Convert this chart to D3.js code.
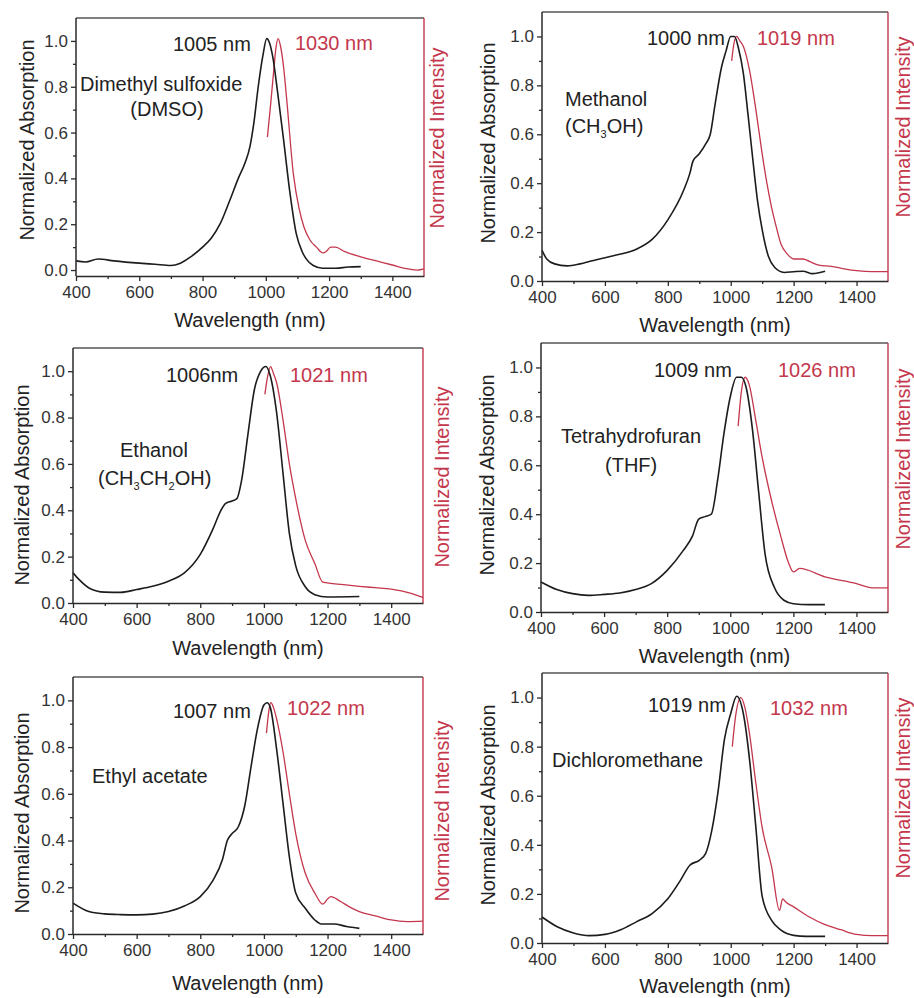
<!DOCTYPE html>
<html>
<head>
<meta charset="utf-8">
<script src="https://cdn.jsdelivr.net/npm/d3@7/dist/d3.min.js"></script>
<style>
  body { margin: 0; background: #fff; }
  svg text { font-family: "Liberation Sans", Arial, Helvetica, sans-serif; }
</style>
</head>
<body>
<svg id="fig" width="914" height="998"></svg>
<script>
// ---- data ----
var xTicks  = [400, 600, 800, 1000, 1200, 1400],
    xMinor  = [500, 700, 900, 1100, 1300],
    yTicks  = [0, 0.2, 0.4, 0.6, 0.8, 1.0],
    yMinor  = [0.1, 0.3, 0.5, 0.7, 0.9];

var absPeaks = ["1005 nm", "1000 nm", "1006nm", "1009 nm", "1007 nm", "1019 nm"];
var emPeaks  = ["1030 nm", "1019 nm", "1021 nm", "1026 nm", "1022 nm", "1032 nm"];

// solvent labels, one entry per text line; [text, subscript, text, subscript, ...]
var solventNames = [
  [["Dimethyl sulfoxide"], ["(DMSO)"]],
  [["Methanol"], ["(CH", "3", "OH)"]],
  [["Ethanol"], ["(CH", "3", "CH", "2", "OH)"]],
  [["Tetrahydrofuran"], ["(THF)"]],
  [["Ethyl acetate"]],
  [["Dichloromethane"]]
];

var dmsoAbs = [[400,0.04],[430,0.035],[470,0.048],[520,0.04],[600,0.03],[650,0.025],[700,0.02],[730,0.03],
  [760,0.055],[800,0.10],[828,0.14],[855,0.20],[885,0.30],[913,0.40],[935,0.47],[950,0.54],[962,0.64],
  [976,0.80],[990,0.93],[1003,1.01],[1012,0.99],[1022,0.93],[1036,0.79],[1056,0.57],[1076,0.34],[1096,0.16],
  [1115,0.08],[1127,0.05],[1150,0.02],[1180,0.008],[1220,0.008],[1260,0.013],[1300,0.015]];
var dmsoEm = [[1005,0.58],[1015,0.72],[1025,0.87],[1032,0.97],[1039,1.01],[1046,0.98],[1055,0.90],
  [1066,0.745],[1087,0.42],[1105,0.27],[1120,0.19],[1140,0.13],[1160,0.10],[1180,0.075],[1190,0.08],
  [1205,0.10],[1220,0.10],[1250,0.08],[1300,0.058],[1350,0.04],[1400,0.022],[1450,0.005],[1480,0.0],[1500,0.005]];

var methanolAbs = [[400,0.125],[415,0.09],[440,0.07],[480,0.062],[520,0.07],[550,0.08],[600,0.095],
  [650,0.11],[700,0.13],[750,0.17],[800,0.25],[850,0.37],[870,0.44],[880,0.49],[900,0.52],[920,0.56],
  [935,0.60],[950,0.72],[970,0.87],[985,0.94],[1000,1.0],[1012,1.0],[1025,0.95],[1040,0.85],[1055,0.68],
  [1070,0.50],[1085,0.33],[1100,0.21],[1120,0.10],[1140,0.055],[1170,0.035],[1200,0.038],[1230,0.04],
  [1260,0.03],[1300,0.04]];
var methanolEm = [[1003,0.90],[1010,0.97],[1019,1.0],[1030,0.98],[1040,0.96],[1060,0.86],[1080,0.70],
  [1100,0.52],[1115,0.40],[1130,0.30],[1145,0.22],[1160,0.15],[1180,0.11],[1200,0.09],[1230,0.09],
  [1250,0.08],[1280,0.065],[1320,0.06],[1360,0.05],[1400,0.042],[1450,0.038],[1500,0.038]];

var ethanolAbs = [[400,0.13],[420,0.10],[450,0.065],[500,0.047],[550,0.046],[600,0.058],[650,0.072],
  [700,0.094],[750,0.13],[800,0.21],[840,0.32],[865,0.40],[880,0.43],[900,0.44],[915,0.45],[930,0.53],
  [950,0.73],[970,0.92],[990,1.0],[1006,1.02],[1020,0.98],[1040,0.82],[1060,0.56],[1080,0.30],
  [1100,0.16],[1130,0.07],[1160,0.036],[1200,0.026],[1300,0.028]];
var ethanolEm = [[1003,0.90],[1012,0.98],[1021,1.02],[1030,0.99],[1040,0.95],[1060,0.79],[1080,0.60],
  [1100,0.45],[1130,0.27],[1160,0.17],[1185,0.09],[1250,0.079],[1300,0.072],[1350,0.066],[1400,0.06],
  [1460,0.043],[1500,0.024]];

var thfAbs = [[400,0.123],[450,0.092],[500,0.075],[550,0.068],[600,0.072],[650,0.078],[700,0.092],
  [750,0.116],[800,0.17],[850,0.25],[880,0.31],[900,0.38],[920,0.39],[940,0.40],[960,0.54],[980,0.73],
  [1000,0.88],[1020,0.96],[1035,0.96],[1050,0.92],[1070,0.75],[1090,0.49],[1110,0.24],[1140,0.10],
  [1170,0.048],[1200,0.034],[1250,0.03],[1300,0.03]];
var thfEm = [[1025,0.76],[1035,0.90],[1047,0.96],[1060,0.93],[1080,0.79],[1100,0.64],[1130,0.46],
  [1160,0.31],[1185,0.20],[1200,0.164],[1220,0.178],[1300,0.144],[1400,0.116],[1450,0.099],[1500,0.099]];

var ethylAcetateAbs = [[400,0.132],[450,0.096],[500,0.086],[550,0.083],[600,0.082],[650,0.085],
  [700,0.096],[750,0.12],[800,0.16],[840,0.23],[870,0.32],[885,0.40],[900,0.43],[920,0.46],[940,0.55],
  [960,0.72],[980,0.88],[1000,0.98],[1010,0.99],[1020,0.97],[1040,0.79],[1060,0.56],[1080,0.33],
  [1100,0.175],[1130,0.11],[1160,0.06],[1180,0.043],[1220,0.043],[1260,0.032],[1300,0.024]];
var ethylAcetateEm = [[1008,0.86],[1015,0.95],[1022,0.99],[1030,0.97],[1040,0.92],[1060,0.78],
  [1080,0.60],[1100,0.43],[1130,0.26],[1160,0.175],[1185,0.128],[1200,0.15],[1210,0.16],[1240,0.14],
  [1270,0.115],[1300,0.096],[1350,0.078],[1400,0.06],[1450,0.053],[1500,0.055]];

var dcmAbs = [[400,0.106],[450,0.065],[500,0.041],[550,0.03],[600,0.035],[650,0.054],[700,0.086],
  [750,0.12],[800,0.18],[840,0.255],[870,0.317],[900,0.337],[920,0.364],[940,0.46],[960,0.62],[980,0.83],
  [1000,0.935],[1019,1.005],[1040,0.935],[1060,0.745],[1080,0.47],[1100,0.19],[1130,0.092],[1160,0.052],
  [1200,0.031],[1240,0.027],[1300,0.027]];
var dcmEm = [[1005,0.80],[1015,0.92],[1032,1.0],[1045,0.96],[1060,0.85],[1080,0.65],[1100,0.47],
  [1130,0.31],[1155,0.133],[1165,0.18],[1175,0.167],[1200,0.147],[1250,0.106],[1300,0.075],[1350,0.054],
  [1400,0.035],[1450,0.03],[1500,0.03]];

var absSeries = [dmsoAbs, methanolAbs, ethanolAbs, thfAbs, ethylAcetateAbs, dcmAbs];
var emSeries  = [dmsoEm, methanolEm, ethanolEm, thfEm, ethylAcetateEm, dcmEm];

// ---- layout (pixel frames of each panel and where its texts sit) ----
var frames = [
  {l: 76,  t: 18,  r: 424, b: 276, yMin: -0.026, yl: [27, 140],  yr: [437, 138], xt: 320,
   absAt: [173, 51], emAt: [295, 50], nameAt: [[80, 91, "start"], [167, 116, "middle"]]},
  {l: 542, t: 12,  r: 888, b: 281, yMin: 0, yl: [488, 143], yr: [903, 127], xt: 325,
   absAt: [647, 45], emAt: [757, 45], nameAt: [[565, 106, "start"], [565, 133, "start"]]},
  {l: 73,  t: 348, r: 423, b: 603, yMin: 0, yl: [22, 485],  yr: [442, 477], xt: 648,
   absAt: [166, 382], emAt: [290, 382], nameAt: [[120, 457, "start"], [98, 485, "start"]]},
  {l: 541, t: 343, r: 888, b: 612, yMin: 0, yl: [487, 475], yr: [903, 459], xt: 656,
   absAt: [654, 377], emAt: [778, 377], nameAt: [[561, 443, "start"], [605, 472, "start"]]},
  {l: 73,  t: 677, r: 423, b: 934, yMin: 0, yl: [22, 813],  yr: [442, 811], xt: 983,
   absAt: [173, 718], emAt: [287, 715], nameAt: [[92, 783, "start"]]},
  {l: 542, t: 673, r: 888, b: 943, yMin: 0, yl: [488, 805], yr: [903, 788], xt: 986,
   absAt: [648, 712], emAt: [770, 715], nameAt: [[552, 767, "start"]]}
];

var black = "#1c1c1c", red = "#c4374c", axisCol = "#2a2a2a", textCol = "#222";
var fontFam = '"Liberation Sans", Arial, sans-serif';

var svg = d3.select("#fig");

frames.forEach(function(f, i) {
  var x = d3.scaleLinear().domain([400, 1500]).range([f.l, f.r]);
  var y = d3.scaleLinear().domain([f.yMin, 1.1]).range([f.b, f.t]);

  var g = svg.append("g").attr("class", "panel");

  var line = d3.line()
      .x(function(d) { return x(d[0]); })
      .y(function(d) { return y(d[1]); })
      .curve(d3.curveMonotoneX);

  // emission (red) then absorption (black)
  g.append("path").datum(emSeries[i])
      .attr("d", line).attr("fill", "none")
      .attr("stroke", red).attr("stroke-width", 1.3);
  g.append("path").datum(absSeries[i])
      .attr("d", line).attr("fill", "none")
      .attr("stroke", black).attr("stroke-width", 1.6);

  // top frame and red right axis
  g.append("line")
      .attr("x1", f.l).attr("x2", f.r).attr("y1", f.t).attr("y2", f.t)
      .attr("stroke", "#555").attr("stroke-width", 1.5);
  g.append("line")
      .attr("x1", f.r).attr("x2", f.r).attr("y1", f.t).attr("y2", f.b)
      .attr("stroke", red).attr("stroke-width", 1.4);

  // x axis
  var xa = g.append("g")
      .attr("transform", "translate(0," + f.b + ")")
      .call(d3.axisBottom(x).tickValues(xTicks).tickSize(5).tickSizeOuter(0).tickPadding(5)
        .tickFormat(d3.format("d")));
  g.append("g")
      .attr("transform", "translate(0," + f.b + ")")
      .call(d3.axisBottom(x).tickValues(xMinor).tickSize(3).tickFormat(""))
      .select(".domain").remove();

  // y axis
  var ya = g.append("g")
      .attr("transform", "translate(" + f.l + ",0)")
      .call(d3.axisLeft(y).tickValues(yTicks).tickSize(5).tickSizeOuter(0).tickPadding(3)
        .tickFormat(d3.format(".1f")));
  g.append("g")
      .attr("transform", "translate(" + f.l + ",0)")
      .call(d3.axisLeft(y).tickValues(yMinor).tickSize(3).tickFormat(""))
      .select(".domain").remove();

  g.selectAll(".domain").attr("stroke", axisCol).attr("stroke-width", 1.5);
  g.selectAll(".tick line").attr("stroke", axisCol).attr("stroke-width", 1.3);
  [xa, ya].forEach(function(a) {
    a.attr("font-family", fontFam).attr("font-size", 17);
    a.selectAll("text").attr("fill", "#333");
  });
  // left axis domain spans the whole frame height
  ya.select(".domain").attr("d", "M0," + f.b + "V" + f.t);

  // axis titles
  g.append("text")
      .attr("transform", "translate(" + f.yl[0] + "," + f.yl[1] + ") rotate(-90)")
      .attr("text-anchor", "middle").attr("dy", "0.35em")
      .attr("font-size", 20).attr("fill", textCol)
      .text("Normalized Absorption");
  g.append("text")
      .attr("transform", "translate(" + f.yr[0] + "," + f.yr[1] + ") rotate(-90)")
      .attr("text-anchor", "middle").attr("dy", "0.35em")
      .attr("font-size", 20).attr("fill", red)
      .text("Normalized Intensity");
  g.append("text")
      .attr("x", (f.l + f.r) / 2).attr("y", f.xt)
      .attr("text-anchor", "middle").attr("dy", "0.35em")
      .attr("font-size", 20).attr("fill", textCol)
      .text("Wavelength (nm)");

  // peak labels
  g.append("text").attr("x", f.absAt[0]).attr("y", f.absAt[1])
      .attr("font-size", 20).attr("fill", textCol).text(absPeaks[i]);
  g.append("text").attr("x", f.emAt[0]).attr("y", f.emAt[1])
      .attr("font-size", 20).attr("fill", red).text(emPeaks[i]);

  // solvent name, with subscripts on alternate parts
  solventNames[i].forEach(function(parts, k) {
    var pos = f.nameAt[k];
    var t = g.append("text").attr("x", pos[0]).attr("y", pos[1])
        .attr("text-anchor", pos[2]).attr("font-size", 20).attr("fill", textCol);
    parts.forEach(function(s, j) {
      if (j % 2 === 0) {
        t.append("tspan").attr("dy", j === 0 ? 0 : -5).text(s);
      } else {
        t.append("tspan").attr("dy", 5).attr("font-size", 11).text(s);
      }
    });
  });
});
</script>
</body>
</html>
